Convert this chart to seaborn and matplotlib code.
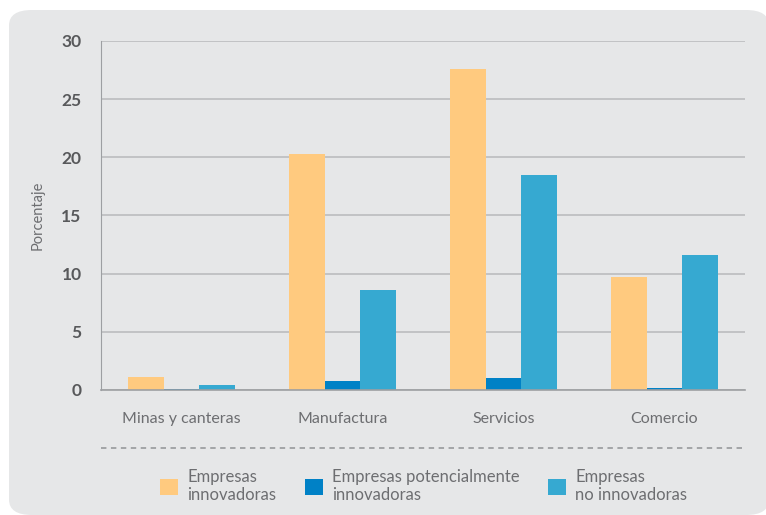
import matplotlib
matplotlib.use("Agg")
import matplotlib.pyplot as plt
import seaborn as sns
import pandas as pd
from matplotlib.patches import FancyBboxPatch, Patch
from matplotlib.lines import Line2D

categories = ["Minas y canteras", "Manufactura", "Servicios", "Comercio"]
series = ["Empresas\ninnovadoras", "Empresas potencialmente\ninnovadoras", "Empresas\nno innovadoras"]
innovadoras = [1.1, 20.3, 27.6, 9.7]
potenciales = [0.1, 0.75, 1.0, 0.15]
no_innovadoras = [0.4, 8.6, 18.5, 11.6]
yticks = [0, 5, 10, 15, 20, 25, 30]

colors = ["#FFCA7F", "#0081C6", "#36A9D1"]
bg = "#E6E7E8"
txt = "#6D6E71"

rows = []
for s, vals in zip(series, [innovadoras, potenciales, no_innovadoras]):
    for c, v in zip(categories, vals):
        rows.append({"Sector": c, "Serie": s, "Valor": v})
df = pd.DataFrame(rows)

sns.set_style("white")
plt.rcParams["font.family"] = ["Lato", "DejaVu Sans"]

fig = plt.figure(figsize=(7.66, 5.15), dpi=100)
fig.patch.set_facecolor("white")
fig.add_artist(FancyBboxPatch((9 / 766, 0.0), 760 / 766, 1 - 10 / 515,
                              boxstyle="round,pad=0,rounding_size=0.03",
                              transform=fig.transFigure, facecolor=bg,
                              edgecolor="none", zorder=-10))

ax = fig.add_axes([101 / 766, 1 - 390 / 515, (745 - 101) / 766, (390 - 41) / 515])
ax.set_facecolor(bg)
sns.barplot(data=df, x="Sector", y="Valor", hue="Serie", palette=colors,
            width=0.67, ax=ax, legend=False, saturation=1, edgecolor="none")

ax.set_ylim(0, 30)
ax.set_xlim(-0.5, 3.5)
ax.set_yticks(yticks)
ax.set_yticklabels([str(t) for t in yticks], fontsize=12.5, fontweight="bold", color="#58595B")
ax.yaxis.grid(True, color="#BBBCBE", linewidth=1.2)
ax.set_axisbelow(True)
for sp in ["top", "right"]:
    ax.spines[sp].set_visible(False)
ax.spines["left"].set_color("#9D9FA2")
ax.spines["bottom"].set_color("#9D9FA2")
ax.spines["bottom"].set_linewidth(1.2)
ax.tick_params(axis="y", length=0, pad=14)
ax.tick_params(axis="x", which="major", length=0, pad=16, labelsize=11.5, labelcolor=txt)
ax.set_xticks([-0.5, 0.5, 1.5, 2.5, 3.5], minor=True)
ax.tick_params(axis="x", which="minor", length=5, color="#9D9FA2", width=1.2)
ax.set_xlabel("")
ax.set_ylabel("Porcentaje", fontsize=10.5, color=txt, labelpad=12)

fig.add_artist(Line2D([101 / 766, 745 / 766], [1 - 448 / 515] * 2,
                      transform=fig.transFigure, color="#9D9FA2",
                      linestyle=(0, (3, 2.5)), linewidth=1.3))

handles = [Patch(facecolor=c, edgecolor="none") for c in colors]
leg = fig.legend(handles, series, loc="center", bbox_to_anchor=(0.553, 1 - 486 / 515),
                 ncol=3, frameon=False, fontsize=12, handlelength=1.1, handleheight=1.1,
                 columnspacing=1.7, handletextpad=0.55, labelspacing=0.2)
for t in leg.get_texts():
    t.set_color(txt)
    t.set_linespacing(1.1)

fig.savefig("out.png", dpi=100, facecolor="white")
